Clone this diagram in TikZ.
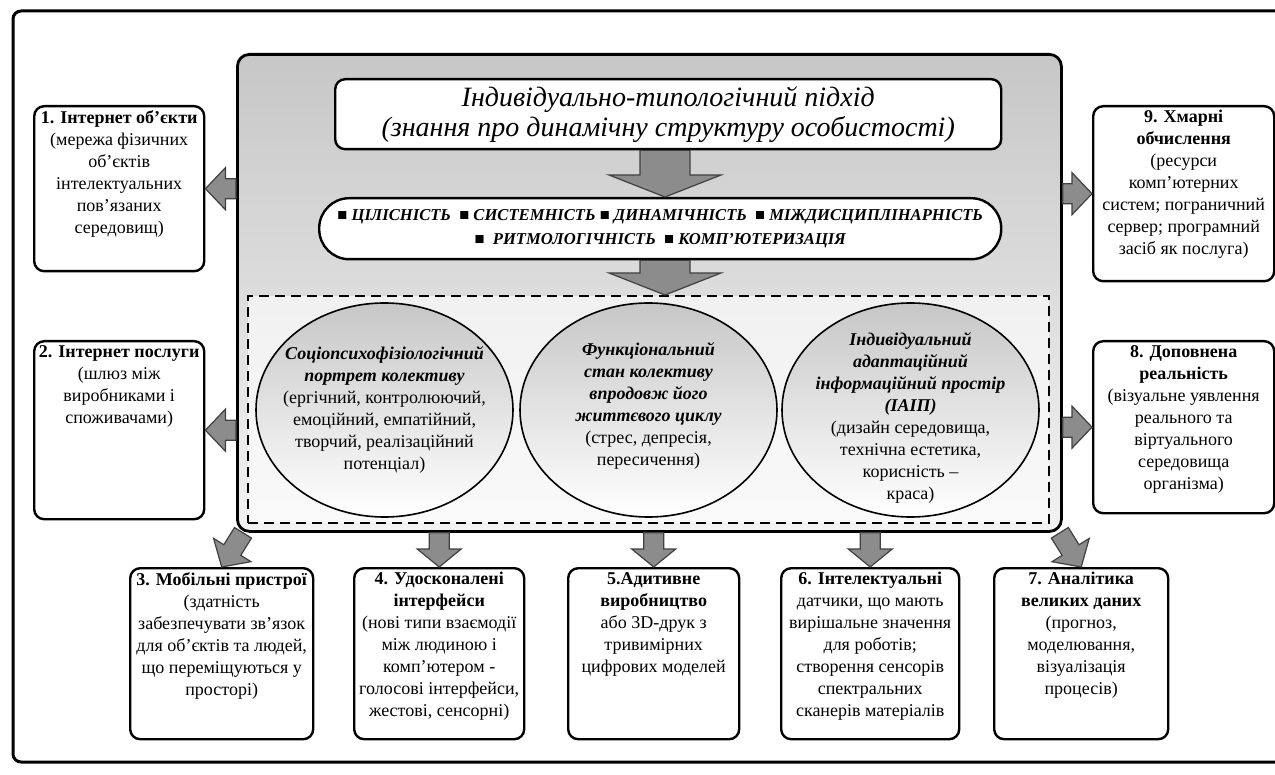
\documentclass[tikz,border=0pt]{standalone}
\usepackage{fontspec}
\setmainfont{Liberation Serif}
\usetikzlibrary{calc,shapes.geometric}
\newcommand\pbx[3]{\parbox[c][#2][t]{#1}{\centering\vspace*{2pt}#3}}
\newcommand\blockarrow[5]{%
  \coordinate (ba-h) at ($(#2)!#5!(#1)$);
  \draw[barrow] ($(#1)!#3!90:(#2)$) -- ($(ba-h)!#3!90:(#2)$) -- ($(ba-h)!#4!90:(#2)$) -- (#2)
     -- ($(ba-h)!#4!-90:(#2)$) -- ($(ba-h)!#3!-90:(#2)$) -- ($(#1)!#3!-90:(#2)$) -- cycle;}
\begin{document}
\begin{tikzpicture}[x=0.5pt,y=-0.5pt,
  frame/.style={line width=1.5pt, rounded corners=4pt},
  panel/.style={draw, line width=1.4pt, rounded corners=6pt, top color=black!22, bottom color=black!5, inner sep=0pt},
  ibox/.style={draw, line width=1.2pt, rounded corners=5pt, fill=white, inner xsep=2pt, inner ysep=0pt, font=\fontsize{9}{11}\selectfont},
  hbox/.style={draw, line width=1.2pt, fill=white, inner sep=0pt, align=center},
  dashbox/.style={draw, line width=1.1pt, dash pattern=on 5pt off 3pt, fill=white, fill opacity=0.6, text opacity=1, inner sep=0pt},
  ell/.style={ellipse, draw, line width=0.8pt, top color=black!22, bottom color=white, minimum width=128.5pt, minimum height=107pt, inner sep=0pt},
  lab/.style={align=center, inner sep=0pt, font=\fontsize{9}{11}\selectfont},
  barrow/.style={fill=black!45, draw=black!75, line width=0.6pt, line join=miter}
]
\useasboundingbox (0,0) rectangle (1275,775);
% outer frame
\draw[frame] (1290,11) -- (13,11) -- (13,762) -- (1290,762);
% central panel
\node[panel, minimum width=412pt, minimum height=238.5pt, anchor=north west] (panel) at (236,53) {};
\node[hbox, rounded corners=5pt, minimum width=333pt, minimum height=35pt, anchor=north west,
      font=\fontsize{14}{15}\selectfont\itshape] (title) at (334,78)
  {Індивідуально-типологічний підхід\\(знання про динамічну структуру особистості)};
\node[hbox, rounded corners=15pt, minimum width=341pt, minimum height=30.5pt, anchor=north west,
      font=\fontsize{8.3}{12}\selectfont\bfseries\itshape] (princ) at (318,197)
  {■ ЦІЛІСНІСТЬ \ ■ СИСТЕМНІСТЬ ■ ДИНАМІЧНІСТЬ \ ■ МІЖДИСЦИПЛІНАРНІСТЬ\\■ \ РИТМОЛОГІЧНІСТЬ \ ■ КОМП’ЮТЕРИЗАЦІЯ};
\node[dashbox, minimum width=400.5pt, minimum height=113.5pt, anchor=north west] (dash) at (247,295) {};
\node[ell, label={[lab]center:{\textbf{\textit{Соціопсихофізіологічний}}\\\textbf{\textit{портрет колективу}}\\(ергічний, контролюючий,\\емоційний, емпатійний,\\творчий, реалізаційний\\потенціал)}}] (e1) at (384.5,410) {};
\node[ell, label={[lab, yshift=2pt]center:{\textbf{\textit{Функціональний}}\\\textbf{\textit{стан колективу}}\\\textbf{\textit{впродовж його}}\\\textbf{\textit{життєвого циклу}}\\(стрес, депресія,\\пересичення)}}] (e2) at (648.5,410) {};
\node[ell, label={[lab, yshift=-4pt]center:{\textbf{\textit{Індивідуальний}}\\\textbf{\textit{адаптаційний}}\\\textbf{\textit{інформаційний простір}}\\\textbf{\textit{(ІАІП)}}\\(дизайн середовища,\\технічна естетика,\\корисність –\\краса)}}] (e3) at (910.5,410) {};
% outer boxes
\node[ibox, anchor=north west] (b1) at (33,105) {\pbx{81pt}{82.5pt}{\textbf{1. Інтернет об’єкти}\\(мережа фізичних\\об’єктів\\інтелектуальних\\пов’язаних\\середовищ)}};
\node[ibox, anchor=north west] (b2) at (33,340) {\pbx{81pt}{89pt}{\textbf{2. Інтернет послуги}\\(шлюз між\\виробниками і\\споживачами)}};
\node[ibox, anchor=north west] (b3) at (129,567) {\pbx{87.5pt}{85.5pt}{\textbf{3. Мобільні пристрої}\\(здатність\\забезпечувати зв'язок\\для об’єктів та людей,\\що переміщуються у\\просторі)}};
\node[ibox, anchor=north west] (b4) at (353,567) {\pbx{81pt}{85.5pt}{\textbf{4. Удосконалені}\\\textbf{інтерфейси}\\(нові типи взаємодії\\між людиною і\\комп’ютером -\\голосові інтерфейси,\\жестові, сенсорні)}};
\node[ibox, anchor=north west] (b5) at (567,567) {\pbx{81.5pt}{85.5pt}{\textbf{5.Адитивне}\\\textbf{виробництво}\\або 3D-друк з\\тривимірних\\цифрових моделей}};
\node[ibox, anchor=north west] (b6) at (780,567) {\pbx{85pt}{85.5pt}{\textbf{6. Інтелектуальні}\\датчики, що мають\\вирішальне значення\\для роботів;\\створення сенсорів\\спектральних\\сканерів матеріалів}};
\node[ibox, anchor=north west] (b7) at (993,567) {\pbx{83pt}{85.5pt}{\textbf{7. Аналітика}\\\textbf{великих даних}\\(прогноз,\\моделювання,\\візуалізація\\процесів)}};
\node[ibox, anchor=north west] (b8) at (1092,340) {\pbx{86.5pt}{86pt}{\textbf{8. Доповнена}\\\textbf{реальність}\\(візуальне уявлення\\реального та\\віртуального\\середовища\\організма)}};
\node[ibox, anchor=north west] (b9) at (1092,105) {\pbx{86.5pt}{87.5pt}{\textbf{9. Хмарні}\\\textbf{обчислення}\\(ресурси\\комп’ютерних\\систем; пограничний\\сервер; програмний\\засіб як послуга)}};
% block arrows
\coordinate (t1) at (title.south -| 665,0);
\coordinate (t2) at (princ.north -| 665,0);
\coordinate (t3) at (princ.south -| 665,0);
\coordinate (t4) at (dash.north -| 665,0);
\blockarrow{t1}{t2}{12.5pt}{28pt}{11pt}
\blockarrow{t3}{t4}{12.5pt}{28pt}{11pt}
\coordinate (s1) at (panel.west |- b1.east);
\coordinate (s2) at (panel.west |- b2.east);
\coordinate (s9) at (panel.east |- b9.west);
\coordinate (s8) at (panel.east |- b8.west);
\coordinate (s3) at ($(panel.south west)+(7,0)$);
\coordinate (s4) at (b4.north |- panel.south);
\coordinate (s5) at (b5.north |- panel.south);
\coordinate (s6) at (b6.north |- panel.south);
\coordinate (s7) at ($(panel.south east)+(-3,0)$);
\blockarrow{s1}{b1.east}{5pt}{10.5pt}{10pt}
\blockarrow{s2}{b2.east}{5pt}{10.5pt}{10pt}
\blockarrow{s9}{b9.west}{5pt}{10.5pt}{10pt}
\blockarrow{s8}{b8.west}{5pt}{10.5pt}{10pt}
\blockarrow{s3}{b3.north}{5pt}{11pt}{10pt}
\blockarrow{s4}{b4.north}{5pt}{11pt}{9pt}
\blockarrow{s5}{b5.north}{5pt}{11pt}{9pt}
\blockarrow{s6}{b6.north}{5pt}{11pt}{9pt}
\blockarrow{s7}{b7.north}{5pt}{11pt}{10pt}
\end{tikzpicture}
\end{document}
